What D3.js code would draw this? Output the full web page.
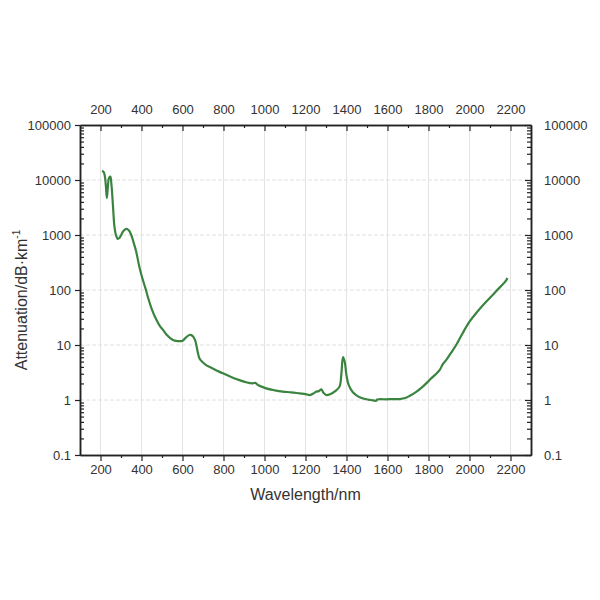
<!DOCTYPE html>
<html>
<head>
<meta charset="utf-8">
<script src="https://cdn.jsdelivr.net/npm/d3@7"></script>
<style>
  body { margin: 0; background: #fff; }
  text { font-family: "Liberation Sans", Arial, sans-serif; fill: #333; }
</style>
</head>
<body>
<div id="chart"></div>
<script>
// wavelength (nm) and attenuation (dB/km)
const wavelength = [208, 215, 220, 226, 231, 236, 241, 248, 253, 258, 263, 268, 276, 284, 292, 301, 312, 325, 338, 350,
  362, 374, 390, 406, 420, 431, 450, 472, 490, 504, 525, 553, 575, 601, 615, 634, 650, 662, 683, 700,
  715, 750, 797, 840, 878, 910, 943, 955, 970, 1008, 1050, 1089, 1130, 1171, 1200, 1220, 1240, 1252, 1265, 1277,
  1288, 1301, 1320, 1345, 1366, 1375, 1383, 1391, 1400, 1410, 1430, 1447, 1470, 1496, 1520, 1545, 1550, 1594, 1630, 1659,
  1690, 1707, 1740, 1772, 1810, 1854, 1870, 1886, 1910, 1935, 1965, 2000, 2040, 2081, 2130, 2179, 2185];
const attenuation = [14700, 14000, 12500, 8000, 4700, 7500, 10800, 11500, 8500, 5000, 2500, 1420, 980, 850, 880, 1000, 1180, 1290, 1220, 1000,
  720, 500, 260, 155, 105, 75, 45, 29, 22, 19, 15, 12.3, 11.8, 12, 13.5, 15.2, 14.5, 12, 5.7, 4.8,
  4.3, 3.7, 3.05, 2.6, 2.3, 2.1, 2.0, 2.05, 1.85, 1.63, 1.5, 1.42, 1.38, 1.32, 1.28, 1.23, 1.32, 1.42, 1.45, 1.56,
  1.35, 1.23, 1.27, 1.45, 1.75, 3.0, 6.0, 5.0, 2.8, 1.9, 1.4, 1.23, 1.1, 1.03, 1.0, 0.97, 1.02, 1.03, 1.04, 1.04,
  1.1, 1.18, 1.4, 1.75, 2.4, 3.5, 4.5, 5.3, 7.2, 10, 16, 26.5, 41, 61, 95, 150, 165];

const xTicks = [200, 400, 600, 800, 1000, 1200, 1400, 1600, 1800, 2000, 2200];
const xMinorTicks = [300, 500, 700, 900, 1100, 1300, 1500, 1700, 1900, 2100];
const yTicks = [0.1, 1, 10, 100, 1000, 10000, 100000];
const yTickLabels = ['0.1', '1', '10', '100', '1000', '10000', '100000'];

const data = wavelength.map((w, i) => ({ x: w, y: attenuation[i] }));

const W = 600, H = 600;
const margin = {top: 125, right: 69, bottom: 145, left: 80},
    width = W - margin.left - margin.right,
    height = H - margin.top - margin.bottom;

const svg = d3.select('#chart')
    .append('svg')
    .attr('width', W)
    .attr('height', H)
    .append('g')
    .attr('transform', `translate(${margin.left},${margin.top})`);

const x = d3.scaleLinear().domain([100, 2300]).range([0, width]);
const y = d3.scaleLog().domain([0.1, 100000]).range([height, 0]);

// minor ticks for the log axis: 2..9 in each decade
const yMinor = [];
yTicks.slice(0, -1).forEach(d => { for (let k = 2; k <= 9; k++) yMinor.push(d * k); });

// grid
svg.append('g').selectAll('line.vg')
    .data(xTicks).join('line')
    .attr('x1', d => x(d)).attr('x2', d => x(d))
    .attr('y1', 0).attr('y2', height)
    .attr('stroke', '#e4e4e4').attr('stroke-width', 1);
svg.append('g').selectAll('line.hg')
    .data(yTicks.slice(1, -1)).join('line')
    .attr('x1', 0).attr('x2', width)
    .attr('y1', d => y(d)).attr('y2', d => y(d))
    .attr('stroke', '#e0e0e0').attr('stroke-width', 1)
    .attr('stroke-dasharray', '4,2');

// axes
const fmt = d => yTickLabels[yTicks.indexOf(d)];
const xfmt = d3.format('d');
const styleAxis = g => {
  g.select('.domain').attr('stroke', '#222').attr('stroke-width', 1.5);
  g.selectAll('.tick line').attr('stroke', '#222').attr('stroke-width', 1.2);
  g.selectAll('.tick text').style('font-size', '13px').attr('fill', '#333');
};

svg.append('g')
    .attr('transform', `translate(0,${height})`)
    .call(d3.axisBottom(x).tickValues(xTicks).tickFormat(xfmt).tickSize(6).tickPadding(4).tickSizeOuter(0))
    .call(styleAxis);
svg.append('g')
    .attr('transform', `translate(0,${height})`)
    .call(d3.axisBottom(x).tickValues(xMinorTicks).tickSize(3).tickFormat('').tickSizeOuter(0))
    .call(styleAxis);

svg.append('g')
    .call(d3.axisTop(x).tickValues(xTicks).tickFormat(xfmt).tickSize(-6).tickPadding(11).tickSizeOuter(0))
    .call(styleAxis);
svg.append('g')
    .call(d3.axisTop(x).tickValues(xMinorTicks).tickSize(-3).tickFormat('').tickSizeOuter(0))
    .call(styleAxis);

svg.append('g')
    .call(d3.axisLeft(y).tickValues(yTicks).tickFormat(fmt).tickSize(5).tickPadding(4).tickSizeOuter(0))
    .call(styleAxis);
svg.append('g')
    .call(d3.axisLeft(y).tickValues(yMinor).tickFormat('').tickSize(-4).tickSizeOuter(0))
    .call(styleAxis);

svg.append('g')
    .attr('transform', `translate(${width},0)`)
    .call(d3.axisRight(y).tickValues(yTicks).tickFormat(fmt).tickSize(-6).tickPadding(13).tickSizeOuter(0))
    .call(styleAxis);
svg.append('g')
    .attr('transform', `translate(${width},0)`)
    .call(d3.axisRight(y).tickValues(yMinor).tickFormat('').tickSize(-4).tickSizeOuter(0))
    .call(styleAxis);

// the curve
svg.append('path')
    .datum(data)
    .attr('fill', 'none')
    .attr('stroke', '#3a8440')
    .attr('stroke-width', 2.2)
    .attr('stroke-linejoin', 'round')
    .attr('d', d3.line()
        .x(d => x(d.x))
        .y(d => y(d.y))
        .curve(d3.curveCatmullRom.alpha(0.5)));

// axis titles
svg.append('text')
    .attr('x', width / 2)
    .attr('y', height + 45)
    .attr('text-anchor', 'middle')
    .style('font-size', '16px')
    .text('Wavelength/nm');

const yl = svg.append('text')
    .attr('transform', `translate(${-53},${height / 2 + 10}) rotate(-90)`)
    .attr('text-anchor', 'middle')
    .style('font-size', '16px');
yl.append('tspan').text('Attenuation/dB·km');
yl.append('tspan').attr('dy', -7).style('font-size', '10px').text('-1');
</script>
</body>
</html>
